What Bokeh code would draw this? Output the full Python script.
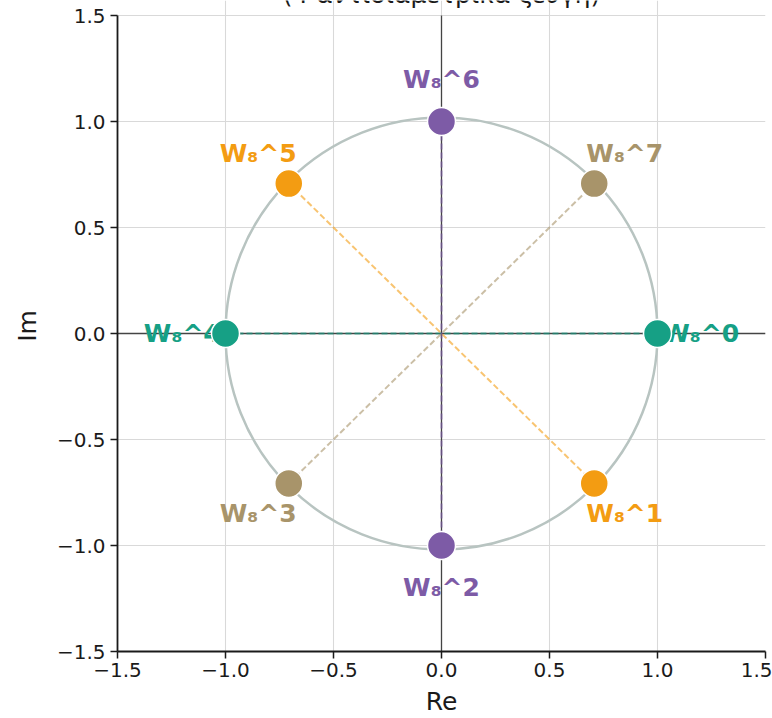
from bokeh.plotting import figure
from bokeh.models import ColumnDataSource, Label, FixedTicker, Range1d
from bokeh.embed import file_html
from bokeh.resources import INLINE

# Eighth roots of unity W8^k
k_vals = [0, 1, 2, 3, 4, 5, 6, 7]
re_vals = [1.0, 0.7071, 0.0, -0.7071, -1.0, -0.7071, 0.0, 0.7071]
im_vals = [0.0, -0.7071, -1.0, -0.7071, 0.0, 0.7071, 1.0, 0.7071]
labels = ["W\u2088^0", "W\u2088^1", "W\u2088^2", "W\u2088^3",
          "W\u2088^4", "W\u2088^5", "W\u2088^6", "W\u2088^7"]
# one colour per antipodal pair (k, k+4)
pair_colors = ["#16a085", "#f39c12", "#7d5ba6", "#a8946a"]
ticks = [-1.5, -1.0, -0.5, 0.0, 0.5, 1.0, 1.5]
title_text = "(4 \u03b1\u03bd\u03c4\u03b9\u03b4\u03b9\u03b1\u03bc\u03b5\u03c4\u03c1\u03b9\u03ba\u03ac \u03b6\u03b5\u03cd\u03b3\u03b7)"

FONT = "DejaVu Sans"
colors = [pair_colors[k % 4] for k in k_vals]
label_r = 1.2
LIM = 1.5
PX_PER_UNIT = 212            # vertical scale of the frame
TOP_PAD = 15 / PX_PER_UNIT   # headroom above the axes for the subtitle

p = figure(width=772, height=718, output_backend="svg", toolbar_location=None,
           x_range=Range1d(-LIM, LIM), y_range=Range1d(-LIM, LIM + TOP_PAD),
           min_border_left=117, min_border_right=7, min_border_top=0,
           min_border_bottom=67)
p.outline_line_color = None
p.background_fill_color = "white"

# axes
for ax in (p.xaxis[0], p.yaxis[0]):
    ax.ticker = FixedTicker(ticks=ticks)
    ax.bounds = (-LIM, LIM)
    ax.major_label_overrides = {t: f"{t:.1f}".replace("-", "\u2212") for t in ticks}
    ax.minor_tick_line_color = None
    ax.axis_line_color = "#1a1a1a"
    ax.axis_line_width = 1.8
    ax.major_tick_line_color = "#1a1a1a"
    ax.major_tick_line_width = 1.5
    ax.major_tick_out = 7
    ax.major_tick_in = 0
    ax.major_label_text_font = FONT
    ax.major_label_text_font_size = "20px"
    ax.major_label_text_color = "#1a1a1a"
    ax.axis_label_text_font = FONT
    ax.axis_label_text_font_size = "25px"
    ax.axis_label_text_font_style = "normal"
    ax.axis_label_text_color = "#1a1a1a"
p.xaxis.axis_label = "Re"
p.yaxis.axis_label = "Im"
p.xaxis.major_label_standoff = 4
p.yaxis.major_label_standoff = 5
p.xaxis.axis_label_standoff = 7
p.xaxis.axis_label_text_line_height = 1.0
p.yaxis.axis_label_standoff = 12

for g in p.grid:
    g.ticker = FixedTicker(ticks=ticks)
    g.bounds = (-LIM, LIM)
    g.grid_line_color = "#d9d9d9"
    g.grid_line_width = 1.1

# zero lines
p.line(x=[-LIM, LIM], y=[0, 0], line_color="#444444", line_width=1.3)
p.line(x=[0, 0], y=[-LIM, LIM], line_color="#444444", line_width=1.3)

# unit circle
p.circle(x=[0], y=[0], radius=1.0, fill_color=None, line_color="#b8c4c1",
         line_width=2.5)

# dashed chords joining each antipodal pair
for k in range(4):
    p.line(x=[re_vals[k], re_vals[k + 4]], y=[im_vals[k], im_vals[k + 4]],
           line_color=pair_colors[k], line_alpha=0.6, line_width=2,
           line_dash="6 3")

# labels placed radially outside each root
src_lab = ColumnDataSource(dict(
    x=[v * label_r for v in re_vals],
    y=[v * label_r for v in im_vals],
    text=labels, color=colors))
p.text(x="x", y="y", text="text", source=src_lab, text_color="color",
       text_font={"value": FONT}, text_font_style="bold",
       text_font_size="25px", text_align="center", text_baseline="middle")

# root markers
src_pts = ColumnDataSource(dict(x=re_vals, y=im_vals, color=colors))
p.scatter(x="x", y="y", source=src_pts, size=28, fill_color="color",
          line_color="white", line_width=1.5)

# subtitle line at the very top edge
p.add_layout(Label(x=0, y=LIM + 21 / PX_PER_UNIT, text=title_text,
                   text_align="center", text_baseline="alphabetic",
                   text_font=FONT, text_font_size="25px",
                   text_color="#1a1a1a"))

open("out.html", "w").write(file_html(p, INLINE))
